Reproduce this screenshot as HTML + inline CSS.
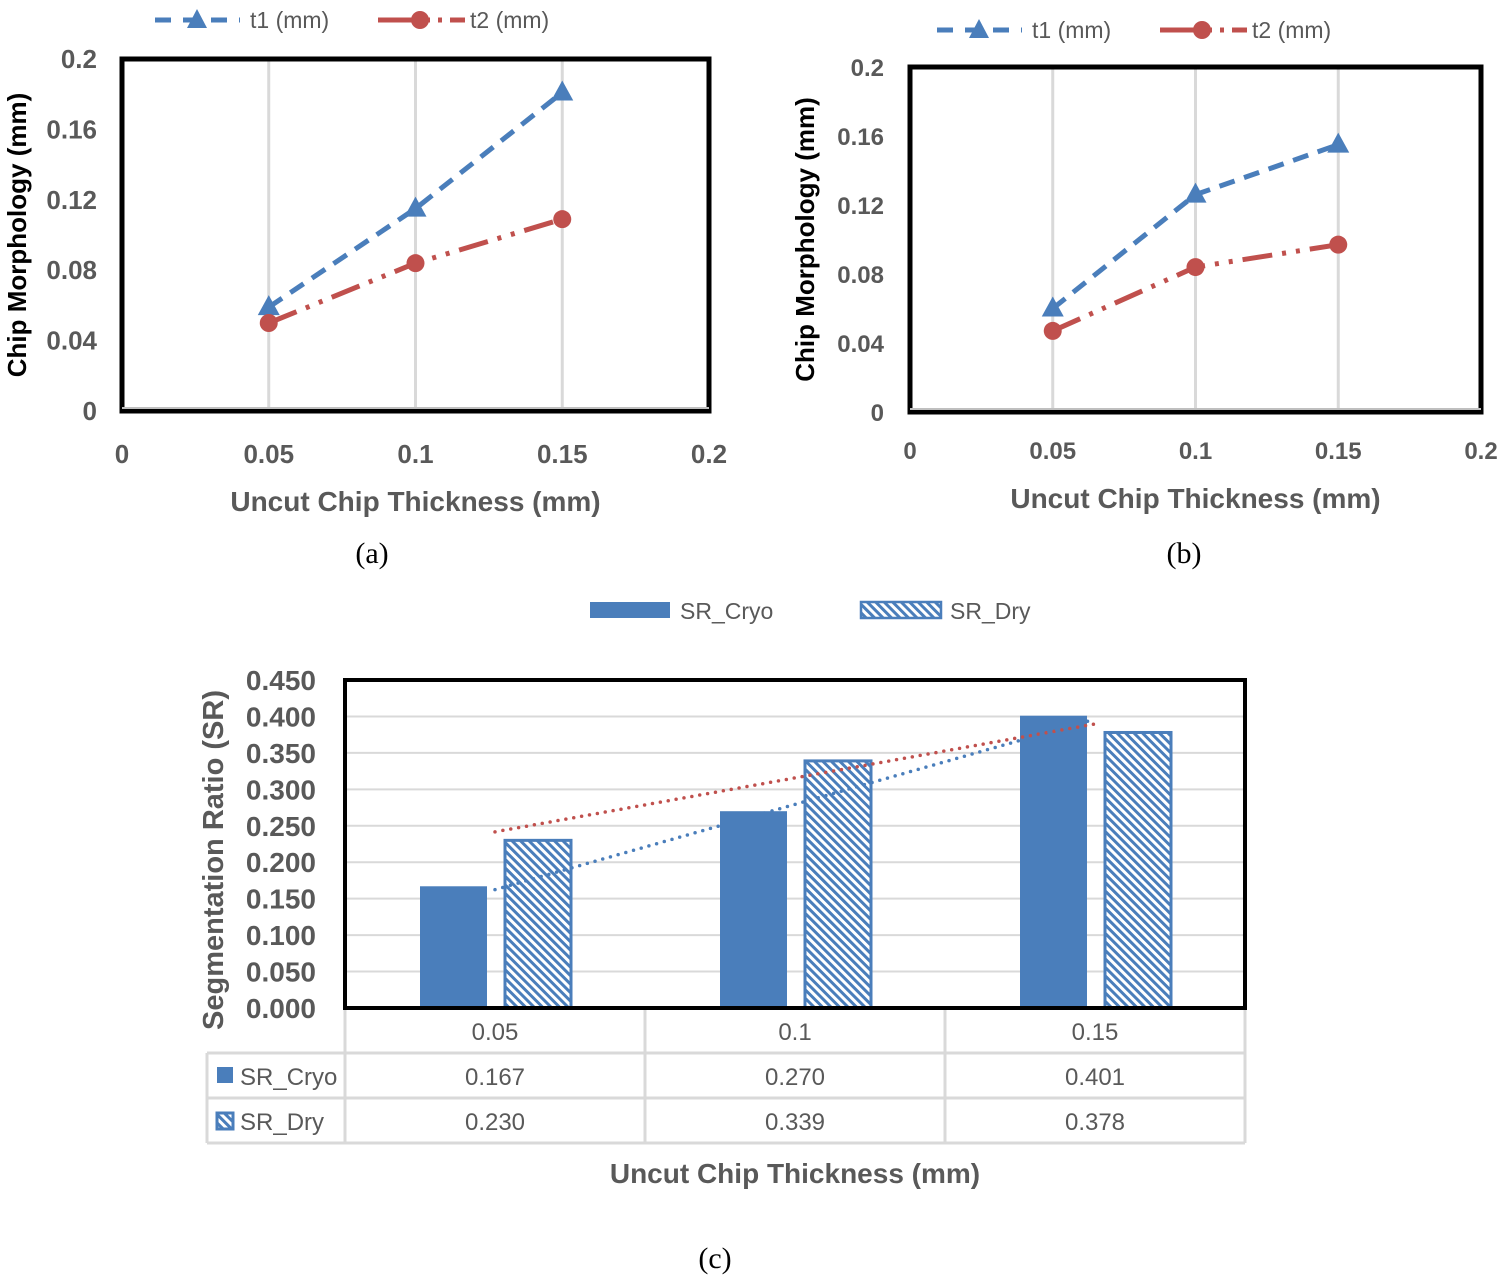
<!DOCTYPE html>
<html><head><meta charset="utf-8"><style>
body{margin:0;background:#fff}
svg text{font-family:"Liberation Sans",sans-serif}
</style></head><body>
<svg id="s" width="1504" height="1281" viewBox="0 0 1504 1281" xmlns="http://www.w3.org/2000/svg">
<defs>
<pattern id="hatch" patternUnits="userSpaceOnUse" width="6" height="6" patternTransform="rotate(-45)">
<rect width="6" height="6" fill="#fff"/><rect width="3" height="6" fill="#4a7ebb"/>
</pattern>
</defs>
<g id="ga"></g>
<g id="gb"></g>
<g id="gc"></g>
</svg>
<script>
const xCatsAB=[0.05,0.1,0.15];
const aT1=[0.059,0.115,0.181];
const aT2=[0.050,0.084,0.109];
const bT1=[0.060,0.126,0.155];
const bT2=[0.047,0.084,0.097];
const abXTicks=["0","0.05","0.1","0.15","0.2"];
const abYTicks=["0","0.04","0.08","0.12","0.16","0.2"];
const cCats=["0.05","0.1","0.15"];
const cCryo=[0.167,0.270,0.401];
const cDry=[0.230,0.339,0.378];
const cYTicks=["0.000","0.050","0.100","0.150","0.200","0.250","0.300","0.350","0.400","0.450"];

const NS="http://www.w3.org/2000/svg";
function mk(p,t,a,txt){const e=document.createElementNS(NS,t);for(const k in a)e.setAttribute(k,a[k]);if(txt!==undefined)e.textContent=txt;p.appendChild(e);return e;}
const BLUE="#4a7ebb",RED="#c0504d",GR="#595959";

function lineChart(g,o){
  const X=v=>o.x0+(o.x1-o.x0)*v/0.2, Y=v=>o.y0-(o.y0-o.y1)*v/0.2;
  mk(g,'rect',{x:o.x0,y:o.y1,width:o.x1-o.x0,height:o.y0-o.y1,fill:'#fff',stroke:'none'});
  xCatsAB.forEach(c=>{const l=mk(g,'line',{x1:X(c),x2:X(c),y1:o.y1,y2:o.y0,stroke:'#d9d9d9','stroke-width':3});
    
    });
  const fr=mk(g,'path',{d:`M${o.x0},${o.y0} V${o.y1} H${o.x1} V${o.y0} Z`,fill:'none',stroke:'#000','stroke-width':5});
  
  
  mk(g,'line',{x1:o.x0,x2:o.x1,y1:o.y0-3,y2:o.y0-3,stroke:'#bfbfbf','stroke-width':2});
  abYTicks.forEach(t=>{const e=mk(g,'text',{x:o.ylx,y:Y(+t)+9,'text-anchor':'end','font-size':o.fs,'font-weight':'bold',fill:GR},t);
    
    });
  abXTicks.forEach(t=>{const e=mk(g,'text',{x:X(+t),y:o.xly,'text-anchor':'middle','font-size':o.fs,'font-weight':'bold',fill:GR},t);
    
    });
  const s1=mk(g,'polyline',{points:xCatsAB.map((c,i)=>X(c)+','+Y(o.t1[i])).join(' '),fill:'none',stroke:BLUE,'stroke-width':5,'stroke-dasharray':'16 10'});
  
  
  const s2=mk(g,'polyline',{points:xCatsAB.map((c,i)=>X(c)+','+Y(o.t2[i])).join(' '),fill:'none',stroke:RED,'stroke-width':5,'stroke-dasharray':'30 10 4 10 4 10'});
  
  
  xCatsAB.forEach((c,i)=>{const x=X(c),y=Y(o.t1[i]);
    const m=mk(g,'path',{d:`M${x},${y-12} L${x+11},${y+8} L${x-11},${y+8} Z`,fill:BLUE});
    
    
    const n=mk(g,'circle',{cx:x,cy:Y(o.t2[i]),r:9,fill:RED});
    
    });
  const xt=mk(g,'text',{x:(o.x0+o.x1)/2,y:o.xty,'text-anchor':'middle','font-size':28,'font-weight':'bold',fill:GR},'Uncut Chip Thickness (mm)');
  
  
  const yt=mk(g,'text',{x:0,y:0,transform:`translate(${o.ytx},${(o.y0+o.y1)/2}) rotate(-90)`,'text-anchor':'middle','font-size':26,'font-weight':'bold',fill:'#000'},'Chip Morphology (mm)');
  
  
  const L=o.leg,ly=o.legy;
  const l1=mk(g,'g',{});
  mk(l1,'line',{x1:L,x2:L+85,y1:ly,y2:ly,stroke:BLUE,'stroke-width':5,'stroke-dasharray':'16 12'});
  mk(l1,'path',{d:`M${L+42},${ly-11} L${L+52},${ly+8} L${L+32},${ly+8} Z`,fill:BLUE});
  mk(l1,'text',{x:L+95,y:ly+8,'font-size':23,fill:GR},'t1 (mm)');
  const l2=mk(g,'g',{});
  mk(l2,'line',{x1:L+223,x2:L+310,y1:ly,y2:ly,stroke:RED,'stroke-width':5,'stroke-dasharray':'40 8 4 8 4 8'});
  mk(l2,'circle',{cx:L+265,cy:ly,r:9,fill:RED});
  mk(l2,'text',{x:L+315,y:ly+8,'font-size':23,fill:GR},'t2 (mm)');
  const cap=mk(g,'text',{x:o.capx,y:563,'text-anchor':'middle','font-size':30,style:'font-family:"Liberation Serif",serif',fill:'#000'},o.cap);
  
  
}
lineChart(document.getElementById('ga'),{x0:122,x1:709,y0:411,y1:59,t1:aT1,t2:aT2,fs:26,ylx:97,xly:463,xty:511,ytx:26,leg:155,legy:20,capx:372,cap:'(a)'});
lineChart(document.getElementById('gb'),{x0:910,x1:1481,y0:412,y1:67,t1:bT1,t2:bT2,fs:24,ylx:884,xly:459,xty:508,ytx:814,leg:937,legy:30,capx:1184,cap:'(b)'});

(function(){
  const g=document.getElementById('gc');
  const x0=345,x1=1245,y0=1008,y1=680,cw=(x1-x0)/cCats.length;
  const Y=v=>y0-(y0-y1)*v/0.45, CX=i=>x0+cw*(i+0.5);
  cYTicks.forEach(t=>{
    if(+t>0){const l=mk(g,'line',{x1:x0,x2:x1,y1:Y(+t),y2:Y(+t),stroke:'#d9d9d9','stroke-width':2});
      
      }
    const e=mk(g,'text',{x:316,y:Y(+t)+10,'text-anchor':'end','font-size':28,'font-weight':'bold',fill:GR},t);
    
    });
  cCats.forEach((c,i)=>{
    const b1=mk(g,'rect',{x:CX(i)-75,y:Y(cCryo[i]),width:67,height:y0-Y(cCryo[i]),fill:BLUE});
    
    
    const b2=mk(g,'rect',{x:CX(i)+10,y:Y(cDry[i]),width:66,height:y0-Y(cDry[i]),fill:'url(#hatch)',stroke:BLUE,'stroke-width':3});
    
    });
  function trend(vals,col,name){const n=vals.length,mx=(n-1)/2,my=vals.reduce((a,b)=>a+b)/n;
    let sxy=0,sxx=0;vals.forEach((v,i)=>{sxy+=(i-mx)*(v-my);sxx+=(i-mx)*(i-mx);});const k=sxy/sxx;
    const t=mk(g,'line',{x1:CX(0),y1:Y(my-k*mx),x2:CX(n-1),y2:Y(my+k*mx),stroke:col,'stroke-width':3.5,'stroke-dasharray':'0 8','stroke-linecap':'round'});
    
    }
  trend(cDry,RED,'trendline-dry');trend(cCryo,BLUE,'trendline-cryo');
  const fr=mk(g,'path',{d:`M${x0},${y0} V${y1} H${x1} V${y0} Z`,fill:'none',stroke:'#000','stroke-width':4});
  
  
  const tb=mk(g,'g',{});
  mk(tb,'path',{d:`M${x0},1010 V1143 M${x0+cw},1010 V1143 M${x0+2*cw},1010 V1143 M${x1},1010 V1143 M207,1053 V1143 M207,1053 H${x1} M207,1098 H${x1} M207,1143 H${x1}`,stroke:'#d9d9d9','stroke-width':3,fill:'none'});
  cCats.forEach((c,i)=>{
    const a=mk(tb,'text',{x:CX(i),y:1040,'text-anchor':'middle','font-size':24,fill:GR},c);
    
    
    const b=mk(tb,'text',{x:CX(i),y:1085,'text-anchor':'middle','font-size':24,fill:GR},cCryo[i].toFixed(3));
    
    
    const d=mk(tb,'text',{x:CX(i),y:1130,'text-anchor':'middle','font-size':24,fill:GR},cDry[i].toFixed(3));
    
    });
  mk(tb,'rect',{x:217,y:1067,width:16,height:16,fill:BLUE});
  mk(tb,'text',{x:240,y:1085,'font-size':24,fill:GR},'SR_Cryo');
  mk(tb,'rect',{x:217,y:1113,width:16,height:16,fill:'url(#hatch)',stroke:BLUE,'stroke-width':3});
  mk(tb,'text',{x:240,y:1130,'font-size':24,fill:GR},'SR_Dry');
  const xt=mk(g,'text',{x:795,y:1183,'text-anchor':'middle','font-size':28,'font-weight':'bold',fill:GR},'Uncut Chip Thickness (mm)');
  
  
  const yt=mk(g,'text',{x:0,y:0,transform:'translate(223,860) rotate(-90)','text-anchor':'middle','font-size':29,'font-weight':'bold',fill:GR},'Segmentation Ratio (SR)');
  
  
  const l1=mk(g,'g',{});
  mk(l1,'rect',{x:590,y:602,width:80,height:16,fill:BLUE});
  mk(l1,'text',{x:680,y:619,'font-size':23,fill:GR},'SR_Cryo');
  const l2=mk(g,'g',{});
  mk(l2,'rect',{x:861,y:602,width:80,height:16,fill:'url(#hatch)',stroke:BLUE,'stroke-width':2.5});
  mk(l2,'text',{x:950,y:619,'font-size':23,fill:GR},'SR_Dry');
  const cap=mk(g,'text',{x:715,y:1268,'text-anchor':'middle','font-size':30,style:'font-family:"Liberation Serif",serif',fill:'#000'},'(c)');
  
  
})();
</script>
</body></html>
